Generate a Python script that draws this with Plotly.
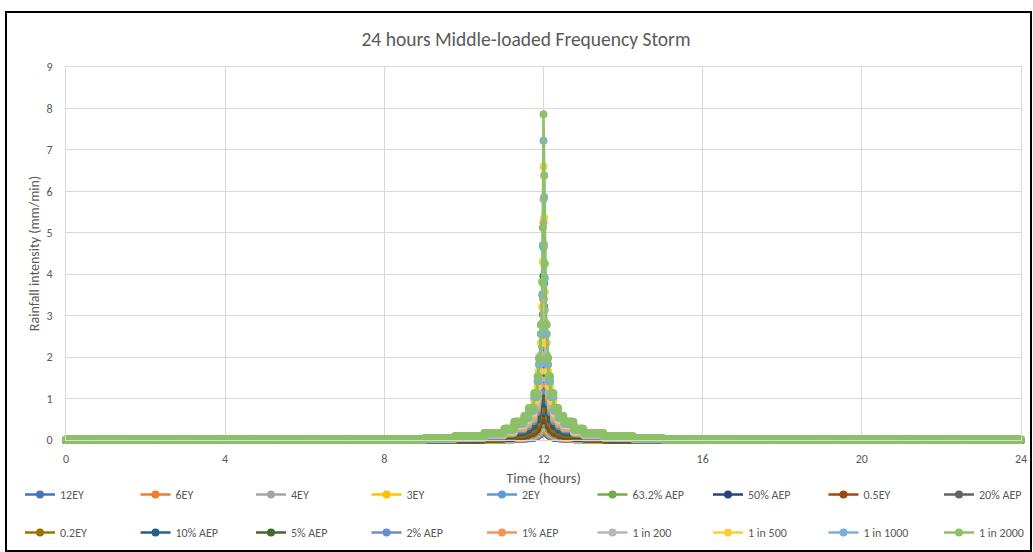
import plotly.graph_objects as go

# ---------------- DATA ----------------
# nested storm durations (minutes, centred on 12:00) and the block intensity (mm/min) of each nested increment
durations_min = [1, 2, 3, 4, 5, 10, 15, 20, 30, 45, 60, 90, 120, 180, 270, 360, 1440]

series_names = ["12EY", "6EY", "4EY", "3EY", "2EY", "63.2% AEP", "50% AEP", "0.5EY", "20% AEP",
                "0.2EY", "10% AEP", "5% AEP", "2% AEP", "1% AEP", "1 in 200", "1 in 500",
                "1 in 1000", "1 in 2000"]

series_colors = ["#4472C4", "#ED7D31", "#A5A5A5", "#FFC000", "#5B9BD5", "#70AD47", "#264478",
                 "#9E480E", "#636363", "#997300", "#255E91", "#43682B", "#698ED0", "#F1975A",
                 "#B7B7B7", "#FFCD33", "#7CAFDD", "#8CC168"]

i_12ey = [0.55, 0.45, 0.36, 0.30, 0.27, 0.19, 0.14, 0.11, 0.08, 0.05, 0.04, 0.03, 0.02, 0.01, 0.01, 0.0, 0.0]
i_6ey = [0.75, 0.61, 0.49, 0.41, 0.36, 0.27, 0.19, 0.15, 0.11, 0.07, 0.06, 0.04, 0.03, 0.02, 0.01, 0.0, 0.0]
i_4ey = [0.95, 0.77, 0.62, 0.51, 0.46, 0.34, 0.24, 0.19, 0.14, 0.09, 0.07, 0.05, 0.03, 0.02, 0.01, 0.0, 0.0]
i_3ey = [1.10, 0.89, 0.72, 0.60, 0.53, 0.39, 0.28, 0.21, 0.16, 0.11, 0.08, 0.06, 0.04, 0.02, 0.01, 0.01, 0.0]
i_2ey = [1.35, 1.10, 0.88, 0.73, 0.66, 0.48, 0.34, 0.26, 0.19, 0.13, 0.10, 0.08, 0.05, 0.03, 0.01, 0.01, 0.0]
i_632aep = [1.60, 1.30, 1.04, 0.87, 0.78, 0.57, 0.40, 0.31, 0.23, 0.16, 0.12, 0.09, 0.05, 0.04, 0.02, 0.01, 0.0]
i_50aep = [1.80, 1.46, 1.17, 0.97, 0.87, 0.64, 0.45, 0.35, 0.26, 0.18, 0.13, 0.10, 0.06, 0.04, 0.02, 0.01, 0.0]
i_05ey = [1.95, 1.58, 1.27, 1.05, 0.95, 0.69, 0.49, 0.38, 0.28, 0.19, 0.14, 0.11, 0.07, 0.04, 0.02, 0.01, 0.0]
i_20aep = [2.65, 2.15, 1.73, 1.43, 1.29, 0.94, 0.67, 0.52, 0.38, 0.26, 0.20, 0.15, 0.09, 0.06, 0.03, 0.01, 0.0]
i_02ey = [2.80, 2.27, 1.82, 1.51, 1.36, 0.99, 0.71, 0.55, 0.40, 0.27, 0.21, 0.16, 0.10, 0.06, 0.03, 0.01, 0.0]
i_10aep = [3.40, 2.76, 2.21, 1.84, 1.65, 1.20, 0.86, 0.66, 0.49, 0.33, 0.25, 0.19, 0.12, 0.07, 0.04, 0.02, 0.0]
i_5aep = [3.95, 3.21, 2.57, 2.14, 1.92, 1.40, 1.00, 0.77, 0.57, 0.39, 0.29, 0.22, 0.13, 0.09, 0.04, 0.02, 0.0]
i_2aep = [4.65, 3.78, 3.03, 2.52, 2.26, 1.65, 1.17, 0.91, 0.67, 0.46, 0.34, 0.26, 0.16, 0.10, 0.05, 0.02, 0.0]
i_1aep = [5.25, 4.26, 3.42, 2.84, 2.55, 1.86, 1.32, 1.02, 0.76, 0.51, 0.39, 0.29, 0.18, 0.12, 0.06, 0.03, 0.01]
i_200 = [5.80, 4.71, 3.78, 3.14, 2.82, 2.05, 1.46, 1.13, 0.84, 0.57, 0.43, 0.32, 0.20, 0.13, 0.06, 0.03, 0.01]
i_500 = [6.60, 5.36, 4.30, 3.57, 3.21, 2.34, 1.66, 1.29, 0.95, 0.65, 0.49, 0.37, 0.22, 0.15, 0.07, 0.03, 0.01]
i_1000 = [7.22, 5.86, 4.70, 3.91, 3.51, 2.56, 1.82, 1.41, 1.04, 0.71, 0.53, 0.40, 0.25, 0.16, 0.08, 0.04, 0.01]
i_2000 = [7.86, 6.38, 5.12, 4.25, 3.82, 2.78, 1.98, 1.53, 1.13, 0.77, 0.58, 0.44, 0.27, 0.17, 0.09, 0.04, 0.01]

series_blocks = [i_12ey, i_6ey, i_4ey, i_3ey, i_2ey, i_632aep, i_50aep, i_05ey, i_20aep,
                 i_02ey, i_10aep, i_5aep, i_2aep, i_1aep, i_200, i_500, i_1000, i_2000]

# ---------------- BUILD ----------------
minutes = list(range(0, 1441))
hours = [m / 60 for m in minutes]
centre = 720


def profile(blocks):
    ys = []
    for m in minutes:
        val = blocks[-1]
        for d, v in zip(durations_min, blocks):
            lo = centre - (d - 1) // 2
            hi = centre + d // 2
            if lo <= m <= hi:
                val = v
                break
        ys.append(val)
    return ys


FONT = "Calibri, Carlito, Lato, sans-serif"
GREY = "#595959"

W, H = 1033, 552
L, R, T, B = 66, 12, 67, 112
pw, ph = W - L - R, H - T - B

# legend groups: (legend id, first index, last index+1, left px, top px)
legend_groups = [("legend", 0, 5, 20, 480), ("legend2", 5, 9, 592.5, 480),
                 ("legend3", 9, 14, 20, 518), ("legend4", 14, 18, 592.5, 518)]


def legend_for(k):
    for lid, a, b, _, _ in legend_groups:
        if a <= k < b:
            return lid


fig = go.Figure()
for k, (name, col, blocks) in enumerate(zip(series_names, series_colors, series_blocks)):
    fig.add_trace(go.Scatter(
        x=hours, y=profile(blocks), name=name, mode="lines+markers",
        line=dict(color=col, width=2.5),
        marker=dict(color=col, size=8),
        cliponaxis=False,
        legend=legend_for(k),
    ))

legend_layout = {}
for lid, a, b, lx, ty in legend_groups:
    legend_layout[lid] = dict(orientation="h", x=(lx - L) / pw, xanchor="left",
                              y=-(ty - (T + ph)) / ph, yanchor="top",
                              entrywidth=70.5, entrywidthmode="pixels",
                              font=dict(size=12, color=GREY), bgcolor="rgba(0,0,0,0)")

fig.update_layout(
    width=W, height=H,
    margin=dict(l=L, r=R, t=T, b=B, autoexpand=False),
    paper_bgcolor="white", plot_bgcolor="white",
    font=dict(family=FONT, color=GREY, size=12),
    title=dict(text="24 hours Middle-loaded Frequency Storm", x=(526) / W, xanchor="center",
               y=1 - 39 / H, yanchor="middle", font=dict(size=19.5, color=GREY)),
    xaxis=dict(range=[0, 24], dtick=4, tick0=0, showgrid=True, gridcolor="#D9D9D9", gridwidth=1,
               showline=True, linecolor="#D9D9D9", mirror=True, zeroline=False,
               ticks="", ticklabelstandoff=8, tickfont=dict(size=12, color=GREY),
               title=dict(text="Time (hours)", font=dict(size=14.5, color=GREY), standoff=7)),
    yaxis=dict(range=[0, 9], dtick=1, tick0=0, showgrid=True, gridcolor="#D9D9D9", gridwidth=1,
               showline=True, linecolor="#D9D9D9", mirror=True, zeroline=False,
               ticks="", ticklabelstandoff=10, tickfont=dict(size=12, color=GREY),
               title=dict(text="Rainfall intensity (mm/min)", font=dict(size=14, color=GREY), standoff=3)),
    showlegend=True,
    **legend_layout,
)

# outer chart border
fig.add_shape(type="rect", xref="paper", yref="paper",
              x0=(6 - L) / pw, x1=(1031 - L) / pw,
              y0=-(551 - (T + ph)) / ph, y1=((T + ph) - 12) / ph,
              line=dict(color="black", width=2), fillcolor="rgba(0,0,0,0)", layer="below")

fig.write_html("out.html", config={"displayModeBar": False},
               post_script="document.body.style.margin='0px';")
